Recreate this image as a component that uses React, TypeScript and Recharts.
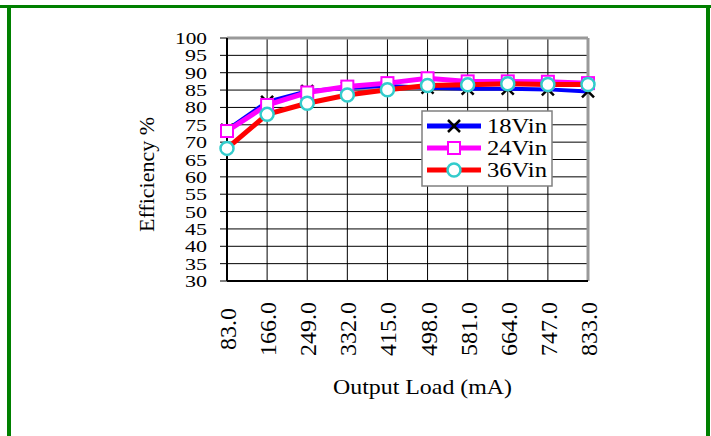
import React from "react";
import {
  LineChart, Line, XAxis, YAxis, CartesianGrid, Legend, ReferenceLine,
} from "recharts";

const loads = ["83.0", "166.0", "249.0", "332.0", "415.0", "498.0", "581.0", "664.0", "747.0", "833.0"];
const vin18 = [73.5, 81.6, 84.7, 85.7, 86.2, 85.7, 85.4, 85.4, 85.2, 84.6];
const vin24 = [73.2, 80.7, 84.3, 86.0, 87.0, 88.4, 87.5, 87.5, 87.4, 87.0];
const vin36 = [68.2, 78.0, 81.2, 83.6, 85.1, 86.3, 86.5, 86.8, 86.6, 86.6];
const yTicks = [30, 35, 40, 45, 50, 55, 60, 65, 70, 75, 80, 85, 90, 95, 100];

const data = loads.map((load, i) => ({
  load,
  v18: vin18[i],
  v24: vin24[i],
  v36: vin36[i],
}));

const FONT = "'Liberation Serif', 'Times New Roman', serif";
const GREEN = "#008000";

function Marker({ kind, cx, cy }: { kind: string; cx: number; cy: number }) {
  if (kind === "v18") {
    return (
      <g stroke="#000" strokeWidth={2.5}>
        <line x1={cx - 6} y1={cy - 6} x2={cx + 6} y2={cy + 6} />
        <line x1={cx - 6} y1={cy + 6} x2={cx + 6} y2={cy - 6} />
      </g>
    );
  }
  if (kind === "v24") {
    return <rect x={cx - 6} y={cy - 6} width={12} height={12} fill="#fff" stroke="#ff00ff" strokeWidth={2} />;
  }
  return <circle cx={cx} cy={cy} r={6.5} fill="#fff" stroke="#33cccc" strokeWidth={2.5} />;
}

const dotFor = (kind: string) => (p: any) => (
  <Marker key={`${kind}-${p.index}`} kind={kind} cx={p.cx} cy={p.cy} />
);

function LoadTick({ x, y, payload }: any) {
  return (
    <text
      transform={`translate(${x + 9},${y + 40}) rotate(-90)`}
      textAnchor="middle"
      fontFamily={FONT}
      fontSize={24}
      fill="#000"
    >
      {payload.value}
    </text>
  );
}

function PercentTick({ x, y, payload }: any) {
  const label = String(payload.value);
  return (
    <text
      x={x}
      y={y + 6}
      textAnchor="end"
      fontFamily={FONT}
      fontSize={17}
      fill="#000"
      textLength={label.length === 3 ? 32 : 22}
      lengthAdjust="spacingAndGlyphs"
    >
      {label}
    </text>
  );
}

function LegendBox({ payload }: any) {
  const rows = payload || [];
  return (
    <svg width={132} height={77} style={{ display: "block" }}>
      <rect x={1} y={1} width={130} height={75} fill="#fff" stroke="#808080" strokeWidth={1.5} />
      {rows.map((entry: any, i: number) => {
        const cy = 16 + i * 22;
        return (
          <g key={entry.dataKey}>
            <line x1={6} y1={cy} x2={60} y2={cy} stroke={entry.color} strokeWidth={5} />
            <Marker kind={entry.dataKey} cx={33} cy={cy} />
            <text
              x={66}
              y={cy + 7}
              fontFamily={FONT}
              fontSize={20}
              fill="#000"
              textLength={60}
              lengthAdjust="spacingAndGlyphs"
            >
              {entry.value}
            </text>
          </g>
        );
      })}
    </svg>
  );
}

export default function App() {
  return (
    <div style={{ position: "fixed", left: 0, top: 0, width: 711, height: 436, background: "#fff" }}>
      <div style={{ position: "absolute", left: 0, top: 5, width: 711, height: 3, background: GREEN }} />
      <div style={{ position: "absolute", left: 7, top: 8, width: 4, height: 428, background: GREEN }} />
      <div style={{ position: "absolute", left: 706, top: 8, width: 4, height: 428, background: GREEN }} />
      <div style={{ position: "absolute", left: 0, top: 0 }}>
        <LineChart
          width={711}
          height={436}
          data={data}
          margin={{ top: 38, right: 123, left: 167, bottom: 95 }}
        >
          <CartesianGrid stroke="#000" strokeWidth={1} />
          <ReferenceLine y={100} stroke="#999" strokeWidth={3} />
          <ReferenceLine x="833.0" stroke="#999" strokeWidth={3} />
          <XAxis
            dataKey="load"
            height={60}
            tickLine={false}
            axisLine={{ stroke: "#000", strokeWidth: 2 }}
            tick={<LoadTick />}
            interval={0}
            label={{
              content: ({ viewBox }: any) => (
                <text
                  x={viewBox.x + viewBox.width / 2 + 15}
                  y={394}
                  textAnchor="middle"
                  fontFamily={FONT}
                  fontSize={21}
                  fill="#000"
                  textLength={179}
                  lengthAdjust="spacingAndGlyphs"
                >
                  Output Load (mA)
                </text>
              ),
            }}
          />
          <YAxis
            width={60}
            domain={[30, 100]}
            ticks={yTicks}
            interval={0}
            tickSize={7}
            tickMargin={13}
            tickLine={{ stroke: "#000" }}
            axisLine={{ stroke: "#000", strokeWidth: 2 }}
            tick={<PercentTick />}
            label={{
              content: ({ viewBox }: any) => (
                <text
                  transform={`translate(${viewBox.x - 13},${viewBox.y + viewBox.height / 2 + 15}) rotate(-90)`}
                  textAnchor="middle"
                  fontFamily={FONT}
                  fontSize={22}
                  fill="#000"
                >
                  Efficiency %
                </text>
              ),
            }}
          />
          <Legend
            layout="vertical"
            align="center"
            verticalAlign="middle"
            content={<LegendBox />}
            wrapperStyle={{ left: 421, top: 110, width: 132, height: 77 }}
          />
          <Line
            dataKey="v18"
            name="18Vin"
            stroke="#0000ff"
            strokeWidth={4}
            dot={dotFor("v18")}
            isAnimationActive={false}
          />
          <Line
            dataKey="v24"
            name="24Vin"
            stroke="#ff00ff"
            strokeWidth={5}
            dot={dotFor("v24")}
            isAnimationActive={false}
          />
          <Line
            dataKey="v36"
            name="36Vin"
            stroke="#ff0000"
            strokeWidth={5}
            dot={dotFor("v36")}
            isAnimationActive={false}
          />
        </LineChart>
      </div>
    </div>
  );
}
